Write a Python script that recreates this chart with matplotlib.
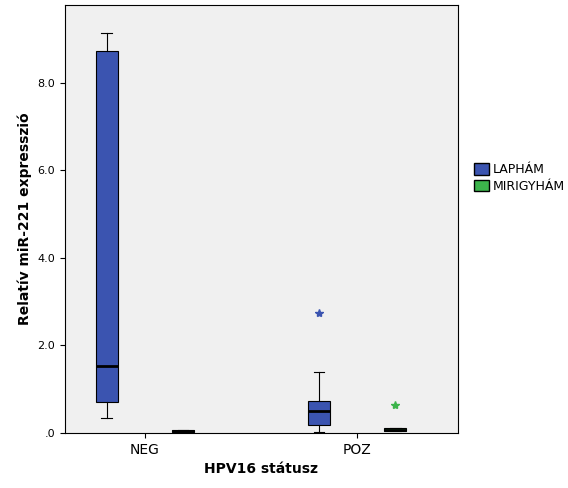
import matplotlib
matplotlib.use("Agg")
import matplotlib.pyplot as plt
from matplotlib.patches import Patch

groups = ["NEG", "POZ"]
series = ["LAPHÁM", "MIRIGYHÁM"]
colors = ["#3b54b0", "#3cb44b"]
# stats: [whislo, q1, med, q3, whishi, outliers]
stats = {
    ("NEG", "LAPHÁM"): [0.34, 0.71, 1.53, 8.73, 9.14, []],
    ("NEG", "MIRIGYHÁM"): [0.01, 0.02, 0.04, 0.06, 0.08, []],
    ("POZ", "LAPHÁM"): [0.02, 0.18, 0.50, 0.73, 1.39, [2.74]],
    ("POZ", "MIRIGYHÁM"): [0.04, 0.05, 0.08, 0.11, 0.12, [0.64]],
}
yticks = [0, 2, 4, 6, 8]
yticklabels = [".0", "2.0", "4.0", "6.0", "8.0"]

fig = plt.figure(figsize=(5.68, 4.88), dpi=100)
ax = fig.add_axes([0.1144, 0.1127, 0.6919, 0.877])
ax.set_facecolor("#f0f0f0")
offs = [-0.18, 0.18]
for gi, g in enumerate(groups):
    for si, s in enumerate(series):
        lo, q1, med, q3, hi, fl = stats[(g, s)]
        st = dict(whislo=lo, q1=q1, med=med, q3=q3, whishi=hi, fliers=fl)
        ax.bxp([st], positions=[gi + 1 + offs[si]], widths=0.104, patch_artist=True,
               boxprops=dict(facecolor=colors[si], edgecolor="black", linewidth=0.8),
               medianprops=dict(color="black", linewidth=2),
               whiskerprops=dict(color="black", linewidth=0.8),
               capprops=dict(color="black", linewidth=0.8),
               capwidths=0.05,
               flierprops=dict(marker="*", markersize=6, markerfacecolor=colors[si],
                               markeredgecolor=colors[si], linestyle="none"))
ax.set_xlim(0.623, 2.476)
ax.set_ylim(0, 9.78)
ax.set_xticks([1, 2])
ax.set_xticklabels(groups, fontsize=10)
ax.set_yticks(yticks)
ax.set_yticklabels(yticklabels, fontsize=8)
ax.set_xlabel("HPV16 státusz", fontsize=10, fontweight="bold")
ax.set_ylabel("Relatív miR-221 expresszió", fontsize=10, fontweight="bold")
handles = [Patch(facecolor=c, edgecolor="black", label=s) for c, s in zip(colors, series)]
fig.legend(handles=handles, loc="center left", bbox_to_anchor=(0.815, 0.635),
           frameon=False, fontsize=9, handlelength=1.2, handleheight=1.0,
           labelspacing=0.3, handletextpad=0.3)
fig.savefig("out.png", dpi=100)
